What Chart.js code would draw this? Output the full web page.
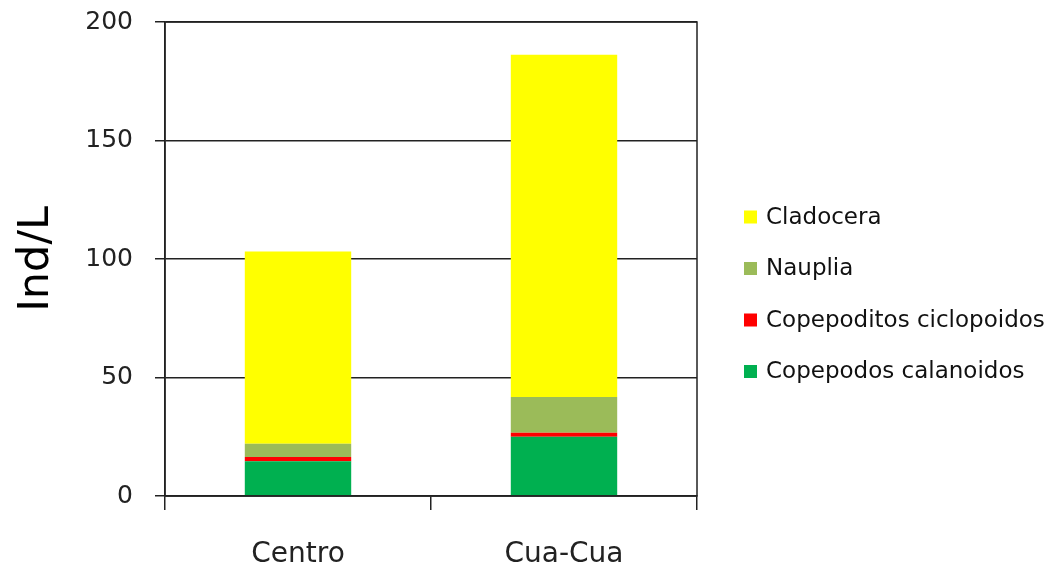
<!DOCTYPE html>
<html>
<head>
<meta charset="utf-8">
<script src="https://cdn.jsdelivr.net/npm/chart.js@4/dist/chart.umd.min.js"></script>
<style>
  html, body { margin: 0; padding: 0; background: #fff; }
  #wrap { width: 1052px; height: 569px; }
</style>
</head>
<body>
<div id="wrap"><canvas id="zooChart"></canvas></div>
<script>
const sites = ['Centro', 'Cua-Cua'];

const calanoidos = [14.7, 25.0];
const ciclopoidos = [1.8, 1.7];
const nauplia = [5.5, 15.1];
const cladocera = [81.2, 144.4];

const yTicks = [0, 50, 100, 150, 200];

const FONT = "'DejaVu Sans', sans-serif";

// frame round the plot area (top and right edges)
const frameBox = {
    id: 'frameBox',
    afterDatasetsDraw(chart) {
        const a = chart.chartArea;
        const c = chart.ctx;
        c.save();
        c.strokeStyle = '#222';
        c.lineWidth = 1.5;
        c.strokeRect(a.left, a.top, a.right - a.left, a.bottom - a.top);
        c.restore();
    }
};

// legend on the right, top item = top of the stack
const sideLegend = {
    id: 'sideLegend',
    afterDraw(chart) {
        const c = chart.ctx;
        const sets = chart.data.datasets.slice().reverse();
        const x = 744, y0 = 217, step = 51.5, box = 13;
        c.save();
        c.font = '23px ' + FONT;
        c.textBaseline = 'middle';
        c.textAlign = 'left';
        sets.forEach((ds, i) => {
            const y = y0 + i * step;
            c.fillStyle = ds.backgroundColor;
            c.fillRect(x, y - box / 2, box, box);
            c.fillStyle = '#111';
            c.fillText(ds.label, x + 22, y + 1);
        });
        c.restore();
    }
};

const data = {
    labels: sites,
    datasets: [
        { label: 'Copepodos calanoidos', data: calanoidos, backgroundColor: '#00B050' },
        { label: 'Copepoditos ciclopoidos', data: ciclopoidos, backgroundColor: '#FF0000' },
        { label: 'Nauplia', data: nauplia, backgroundColor: '#9BBB59' },
        { label: 'Cladocera', data: cladocera, backgroundColor: '#FFFF00' }
    ]
};

const options = {
    responsive: true,
    maintainAspectRatio: false,
    animation: false,
    layout: { padding: { top: 22, right: 355, bottom: 0, left: 0 } },
    datasets: {
        bar: { barPercentage: 0.4, categoryPercentage: 1.0, borderWidth: 0 }
    },
    plugins: {
        legend: { display: false },
        tooltip: { enabled: false }
    },
    scales: {
        x: {
            stacked: true,
            grid: {
                drawOnChartArea: false,
                drawTicks: true,
                tickLength: 14,
                color: '#222',
                lineWidth: 1.5
            },
            border: { color: '#222', width: 1.5 },
            ticks: {
                color: '#222',
                padding: 28,
                font: { family: FONT, size: 28 }
            },
            afterFit(scale) { scale.height = 73; }
        },
        y: {
            stacked: true,
            min: 0,
            max: 200,
            afterBuildTicks(scale) {
                scale.ticks = yTicks.map(v => ({ value: v }));
            },
            grid: {
                color: '#222',
                lineWidth: 1.5,
                tickLength: 10
            },
            border: { color: '#222', width: 1.5 },
            ticks: {
                color: '#222',
                padding: 22,
                font: { family: FONT, size: 25 }
            },
            title: {
                display: true,
                text: 'Ind/L',
                color: '#000',
                padding: { top: 11, bottom: 0 },
                font: { family: FONT, size: 43 }
            },
            afterFit(scale) {
                scale.width = 165;
                scale.paddingTop = 0;
                scale.paddingBottom = 0;
            }
        }
    }
};

new Chart(document.getElementById('zooChart'), {
    type: 'bar',
    data: data,
    options: options,
    plugins: [frameBox, sideLegend]
});
</script>
</body>
</html>
